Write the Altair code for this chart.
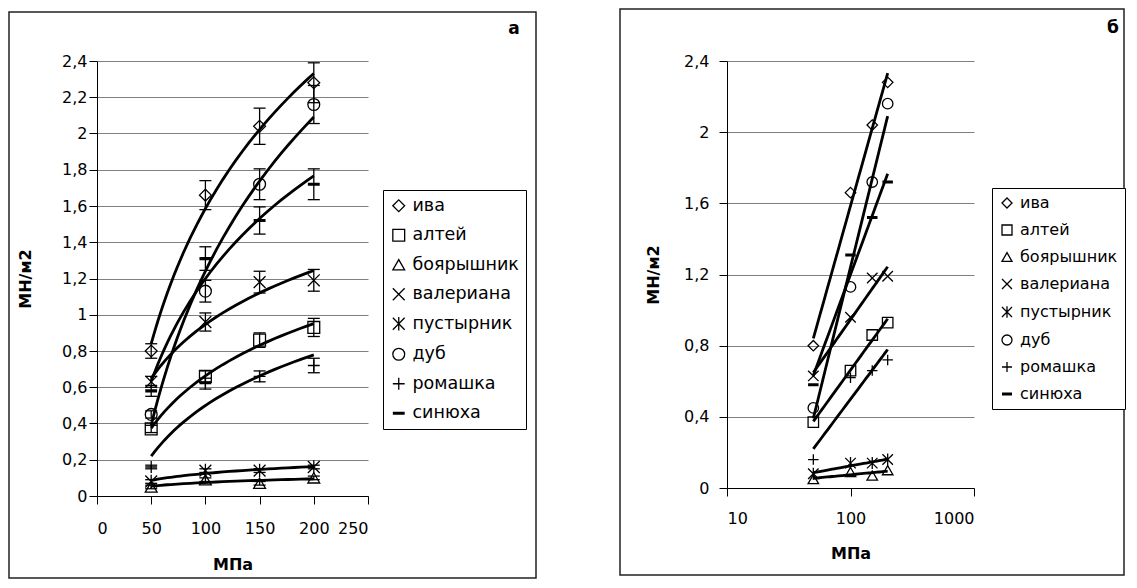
import altair as alt
import pandas as pd

# ---------------- data ----------------
pressure = [50, 100, 150, 200]
species = ["ива", "алтей", "боярышник", "валериана", "пустырник", "дуб", "ромашка", "синюха"]

iva = [0.80, 1.66, 2.04, 2.28]
altey = [0.37, 0.66, 0.86, 0.93]
boyar = [0.05, 0.09, 0.07, 0.10]
valer = [0.63, 0.96, 1.18, 1.19]
pustyr = [0.08, 0.14, 0.14, 0.16]
dub = [0.45, 1.13, 1.72, 2.16]
romashka = [0.16, 0.62, 0.66, 0.72]
sinyukha = [0.58, 1.31, 1.52, 1.72]

err_iva = [0.04, 0.08, 0.10, 0.11]
err_altey = [0.02, 0.03, 0.04, 0.05]
err_boyar = [0.01, 0.01, 0.01, 0.01]
err_valer = [0.03, 0.05, 0.06, 0.06]
err_pustyr = [0.01, 0.01, 0.01, 0.01]
err_dub = [0.02, 0.06, 0.085, 0.105]
err_romashka = [0.01, 0.03, 0.03, 0.04]
err_sinyukha = [0.03, 0.065, 0.075, 0.085]

x_ticks_a = [0, 50, 100, 150, 200, 250]
x_ticks_b = [10, 100, 1000]
y_ticks_a = [0, 0.2, 0.4, 0.6, 0.8, 1.0, 1.2, 1.4, 1.6, 1.8, 2.0, 2.2, 2.4]
y_ticks_b = [0, 0.4, 0.8, 1.2, 1.6, 2.0, 2.4]

series = [iva, altey, boyar, valer, pustyr, dub, romashka, sinyukha]
errors = [err_iva, err_altey, err_boyar, err_valer, err_pustyr, err_dub, err_romashka, err_sinyukha]

rows = []
for name, vals, errs in zip(species, series, errors):
    for p, v, e in zip(pressure, vals, errs):
        rows.append({"name": name, "x": p, "y": v, "lo": v - e, "hi": v + e})
df = pd.DataFrame(rows)
one = pd.DataFrame([{"k": 0}])

X_PATH = "M-1,-1L1,1M-1,1L1,-1"
AST_PATH = "M-1,-1L1,1M-1,1L1,-1M0,-1.15L0,1.15"
PLUS_PATH = "M-1,0L1,0M0,-1L0,1"
DASH_PATH = "M-1,-0.16L1,-0.16M-1,-0.08L1,-0.08M-1,0L1,0M-1,0.08L1,0.08M-1,0.16L1,0.16"
shape_range = ["diamond", "square", "triangle-up", X_PATH, AST_PATH, "circle", PLUS_PATH, DASH_PATH]

FONT = "DejaVu Sans"


def panel(w, h, x_scale, x_vals, y_vals, frame, leg, leg_font, leg_sym, leg_row, letter, letter_pos,
          with_err, y_lab_pad, y_title_x, x_lab_pad, x_title_y, pt_size):
    x_axis = alt.Axis(values=x_vals, grid=False, title="МПа", format="d",
                      labelPadding=x_lab_pad, titleY=x_title_y, titleBaseline="middle")
    y_scale = alt.Scale(domain=[0, 2.4], nice=False, zero=True)
    y_axis = alt.Axis(values=y_vals, grid=True, title="МН/м2",
                      labelExpr="replace(format(datum.value, '.1~f'), '.', ',')",
                      labelPadding=y_lab_pad, titleX=y_title_x, titleY=h / 2,
                      titleAngle=-90, titleBaseline="middle", titleAlign="center")

    def X(f="x"):
        return alt.X(f + ":Q", scale=x_scale, axis=x_axis, title="МПа")

    def Y(f="y"):
        return alt.Y(f + ":Q", scale=y_scale, axis=y_axis, title="МН/м2")

    base = alt.Chart(df)
    frame_layer = alt.Chart(one).mark_rect(fill="white", fillOpacity=0, stroke="#222",
                                           strokeWidth=1.5).encode(
        x=alt.value(frame[0]), x2=alt.value(frame[1]),
        y=alt.value(frame[2]), y2=alt.value(frame[3]))
    letter_layer = alt.Chart(one).mark_text(text=letter, font=FONT, fontWeight="bold",
                                            fontSize=17, align="center", baseline="middle",
                                            color="black").encode(
        x=alt.value(letter_pos[0]), y=alt.value(letter_pos[1]))

    lines = base.transform_regression("x", "y", groupby=["name"], method="log",
                                      extent=[50, 200]).mark_line(
        color="black", strokeWidth=2.8).encode(x=X(), y=Y(), detail="name:N")

    points = base.mark_point(filled=False, color="black", strokeWidth=1.3, opacity=1,
                             size=pt_size).encode(
        x=X(), y=Y(),
        shape=alt.Shape("name:N", scale=alt.Scale(domain=species, range=shape_range),
                        legend=alt.Legend(title=None, orient="none", legendX=leg[0],
                                          legendY=leg[1], strokeColor="black",
                                          fillColor="white", padding=7,
                                          labelFont=FONT, labelFontSize=leg_font,
                                          labelColor="black", symbolSize=leg_sym,
                                          symbolStrokeWidth=1.3, symbolStrokeColor="black",
                                          rowPadding=leg_row, labelOffset=5)))
    layers = [frame_layer]
    if with_err:
        rules = base.mark_rule(color="black", strokeWidth=1.3).encode(
            x=X(), y=Y("lo"), y2="hi:Q")
        tlo = base.mark_tick(orient="horizontal", size=12, thickness=1.3,
                             color="black", opacity=1).encode(x=X(), y=Y("lo"))
        thi = base.mark_tick(orient="horizontal", size=12, thickness=1.3,
                             color="black", opacity=1).encode(x=X(), y=Y("hi"))
        layers += [rules, tlo, thi]
    layers += [lines, points, letter_layer]
    return alt.layer(*layers).properties(width=w, height=h)


wa, ha = 271, 435
wb, hb = 247, 427

panel_a = panel(wa, ha, alt.Scale(domain=[0, 250], nice=False, zero=True),
                x_ticks_a, y_ticks_a,
                frame=(-88, 439, -49, ha + 82), leg=(286, 129), leg_font=17.5, leg_sym=140,
                leg_row=10.5, letter="а", letter_pos=(417, -32), with_err=True,
                y_lab_pad=2, y_title_x=-72, x_lab_pad=16, x_title_y=68, pt_size=140)

panel_b = panel(wb, hb, alt.Scale(type="log", domain=[10, 1000], nice=False),
                x_ticks_b, y_ticks_b,
                frame=(-107, wb + 150, -52, hb + 87), leg=(265, 127), leg_font=16, leg_sym=100,
                leg_row=11, letter="б", letter_pos=(386, -33), with_err=False,
                y_lab_pad=10, y_title_x=-74, x_lab_pad=14, x_title_y=65, pt_size=110)

chart = alt.hconcat(panel_a, panel_b, spacing=82).resolve_scale(
    x="independent", y="independent", shape="independent"
).resolve_legend(shape="independent").properties(
    padding=0, background="white"
).configure_view(stroke=None).configure_axis(
    domainColor="black", domainWidth=1, tickColor="black", tickSize=8, tickWidth=1,
    gridColor="#808080", gridWidth=1, labelFont=FONT, labelFontSize=16, labelColor="black",
    titleFont=FONT, titleFontSize=16, titleFontWeight="bold", titleColor="black"
)

chart.save("out.html", embed_options={"renderer": "svg", "actions": False})
